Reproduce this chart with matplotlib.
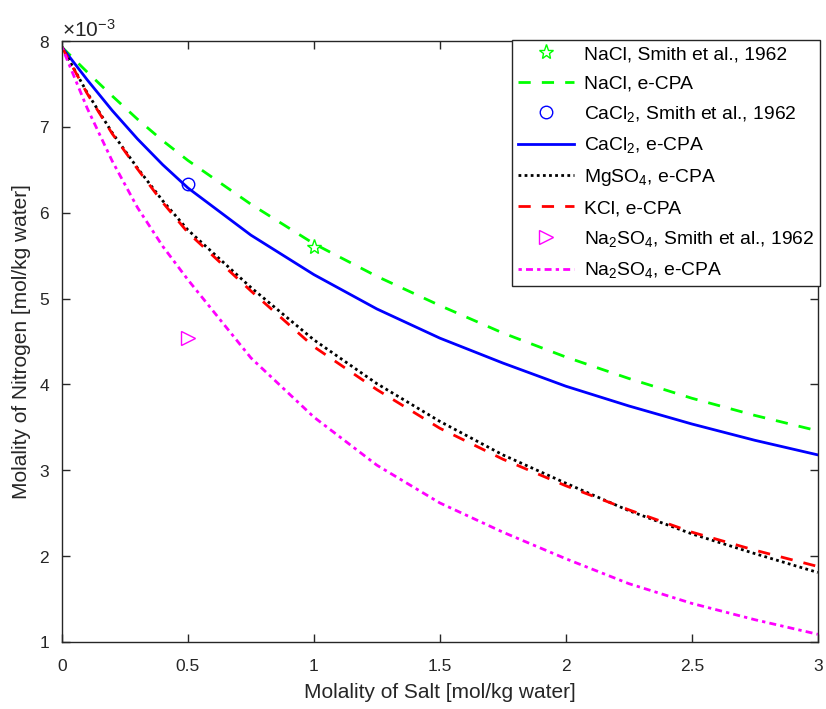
import matplotlib
matplotlib.use('Agg')
import matplotlib.pyplot as plt
from matplotlib.ticker import ScalarFormatter
import numpy as np

plt.rcParams['font.family'] = ['Liberation Sans', 'DejaVu Sans']
plt.rcParams['mathtext.fontset'] = 'custom'
plt.rcParams['mathtext.rm'] = 'Liberation Sans'
plt.rcParams['mathtext.it'] = 'Liberation Sans:italic'

# molality of salt [mol/kg water]
salt = [0, 0.1, 0.2, 0.3, 0.4, 0.5, 0.75, 1.0, 1.25, 1.5, 1.75, 2.0, 2.25, 2.5, 2.75, 3.0]

# e-CPA curves, nitrogen molality in units of 1e-3 mol/kg water
nacl_cpa = [7.93, 7.64, 7.36, 7.09, 6.84, 6.61, 6.10, 5.64, 5.26, 4.92, 4.60, 4.32, 4.07, 3.84, 3.64, 3.46]
cacl2_cpa = [7.93, 7.55, 7.19, 6.86, 6.56, 6.29, 5.74, 5.28, 4.88, 4.54, 4.25, 3.98, 3.75, 3.54, 3.35, 3.18]
mgso4_cpa = [7.93, 7.40, 6.93, 6.52, 6.14, 5.80, 5.13, 4.52, 4.01, 3.57, 3.18, 2.85, 2.53, 2.26, 2.03, 1.81]
kcl_cpa = [7.93, 7.39, 6.92, 6.51, 6.12, 5.77, 5.09, 4.44, 3.94, 3.49, 3.13, 2.82, 2.54, 2.28, 2.07, 1.88]
na2so4_cpa = [7.93, 7.22, 6.60, 6.06, 5.61, 5.22, 4.31, 3.62, 3.06, 2.62, 2.28, 1.97, 1.68, 1.45, 1.26, 1.09]

# experimental points (Smith et al., 1962)
nacl_exp_x, nacl_exp_y = [1.0], [5.60]
cacl2_exp_x, cacl2_exp_y = [0.5], [6.33]
na2so4_exp_x, na2so4_exp_y = [0.5], [4.54]

sc = 1e-3
fig = plt.figure(figsize=(8.26, 7.09), dpi=100)
ax = fig.add_axes([0.075, 0.0945, 0.915, 0.8475])

lw = 2.0
dash = (0, (4.4, 4.0))
ax.plot(nacl_exp_x, np.array(nacl_exp_y) * sc, ls='none', marker='*', ms=11, mfc='none',
        mec='#00ff00', mew=1, label='NaCl, Smith et al., 1962')
ax.plot(salt, np.array(nacl_cpa) * sc, color='#00ff00', lw=lw, ls=dash,
        label='NaCl, e-CPA')
ax.plot(cacl2_exp_x, np.array(cacl2_exp_y) * sc, ls='none', marker='o', ms=9, mfc='none',
        mec='#0000ff', mew=1, label=r'CaCl$_2$, Smith et al., 1962')
ax.plot(salt, np.array(cacl2_cpa) * sc, color='#0000ff', lw=lw, ls='-',
        label=r'CaCl$_2$, e-CPA')
ax.plot(salt, np.array(mgso4_cpa) * sc, color='black', lw=lw, ls=(0, (1, 1.2)),
        label=r'MgSO$_4$, e-CPA')
ax.plot(salt, np.array(kcl_cpa) * sc, color='#ff0000', lw=lw, ls=dash,
        label='KCl, e-CPA')
ax.plot(na2so4_exp_x, np.array(na2so4_exp_y) * sc, ls='none', marker='>', ms=10, mfc='none',
        mec='#ff00ff', mew=1, label=r'Na$_2$SO$_4$, Smith et al., 1962')
ax.plot(salt, np.array(na2so4_cpa) * sc, color='#ff00ff', lw=lw, ls=(0, (1.2, 1.5, 2.5, 1.5)),
        label=r'Na$_2$SO$_4$, e-CPA')

ax.set_xlim(0, 3)
ax.set_ylim(1e-3, 8e-3)
ax.set_xticks([0, 0.5, 1, 1.5, 2, 2.5, 3])
ax.set_xticklabels(['0', '0.5', '1', '1.5', '2', '2.5', '3'])
fmt = ScalarFormatter(useMathText=True)
fmt.set_powerlimits((-3, -3))
ax.yaxis.set_major_formatter(fmt)
ax.yaxis.get_offset_text().set_fontsize(15)
ax.yaxis.get_offset_text().set_color('#262626')

ax.tick_params(direction='in', top=True, right=True, labelsize=12.5, length=6, width=1,
               colors='#262626')
ax.tick_params(axis='x', pad=12)
ax.tick_params(axis='y', pad=8.5)
for s in ax.spines.values():
    s.set_color('#262626')
    s.set_linewidth(1)

ax.set_xlabel('Molality of Salt [mol/kg water]', fontsize=15, color='#262626', labelpad=7)
ax.set_ylabel('Molality of Nitrogen [mol/kg water]', fontsize=15, color='#262626', labelpad=6)

leg = ax.legend(loc='upper right', bbox_to_anchor=(1.003, 1.002), fontsize=13.9, handlelength=2.9,
                labelspacing=0.6, borderaxespad=0, fancybox=False, edgecolor='#262626',
                framealpha=1, handletextpad=0.5, borderpad=0.3)
leg.get_frame().set_linewidth(1)

fig.savefig('out.png', dpi=100)
